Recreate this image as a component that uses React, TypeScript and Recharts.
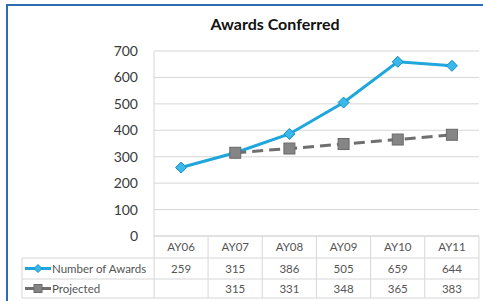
import { CartesianGrid, ComposedChart, Line, XAxis, YAxis } from 'recharts'

const years = ['AY06', 'AY07', 'AY08', 'AY09', 'AY10', 'AY11']
const awards = [259, 315, 386, 505, 659, 644]
const projected: (number | null)[] = [null, 315, 331, 348, 365, 383]
const yTicks = [0, 100, 200, 300, 400, 500, 600, 700]

const data = years.map((year, i) => ({
  year,
  awards: awards[i],
  projected: projected[i],
}))

const FONT = 'Lato, "Open Sans", sans-serif'
const BLUE = '#1fa6dc'
const GRAY = '#6f6f6f'
const LINE = '#d6d6d6'
const TXT = '#555'

// table rows under the plot
const ROW_TOP = 236
const ROW1 = 258
const ROW2 = 279
const ROW_BOT = 298
const LEGEND_LEFT = 22

// "half" is the marker half-size; recharts passes its own r, so keep a separate name
function Diamond({ cx, cy, half = 5.5 }: { cx?: number; cy?: number; half?: number }) {
  if (cx == null || cy == null) return null
  return (
    <path
      d={`M${cx},${cy - half} L${cx + half},${cy} L${cx},${cy + half} L${cx - half},${cy} Z`}
      fill="#3bb8ea"
      stroke="#1590c4"
      strokeWidth={1}
    />
  )
}

function Square({ cx, cy, half = 5.5 }: { cx?: number; cy?: number; half?: number }) {
  if (cx == null || cy == null) return null
  return (
    <rect
      x={cx - half}
      y={cy - half}
      width={half * 2}
      height={half * 2}
      fill="#858585"
      stroke="#6a6a6a"
      strokeWidth={1}
    />
  )
}

function TableColumn(props: any) {
  const { x, payload, index } = props
  const half = 27
  const i = index as number
  const left = x - half
  const right = x + half
  const midA = (ROW1 + ROW2) / 2
  const midP = (ROW2 + ROW_BOT) / 2
  return (
    <g fontFamily={FONT} fontSize={11.5} fill={TXT}>
      {i === 0 && (
        <g>
          <line x1={LEGEND_LEFT} x2={left} y1={ROW1} y2={ROW1} stroke={LINE} />
          <line x1={LEGEND_LEFT} x2={left} y1={ROW2} y2={ROW2} stroke={LINE} />
          <line x1={LEGEND_LEFT} x2={left} y1={ROW_BOT} y2={ROW_BOT} stroke={LINE} />
          <line x1={LEGEND_LEFT} x2={LEGEND_LEFT} y1={ROW1} y2={ROW_BOT} stroke={LINE} />
          <line x1={left} x2={left} y1={ROW_TOP} y2={ROW_BOT} stroke={LINE} />
          <line x1={25} x2={51} y1={midA} y2={midA} stroke={BLUE} strokeWidth={3} />
          <Diamond cx={38} cy={midA} half={4} />
          <text x={52} y={midA + 4}>Number of Awards</text>
          <line x1={25} x2={51} y1={midP} y2={midP} stroke={GRAY} strokeWidth={3} />
          <Square cx={38} cy={midP} half={4} />
          <text x={52} y={midP + 4}>Projected</text>
        </g>
      )}
      <line x1={left} x2={right} y1={ROW1} y2={ROW1} stroke={LINE} />
      <line x1={left} x2={right} y1={ROW2} y2={ROW2} stroke={LINE} />
      <line x1={left} x2={right} y1={ROW_BOT} y2={ROW_BOT} stroke={LINE} />
      <line x1={right} x2={right} y1={ROW_TOP} y2={ROW_BOT} stroke={LINE} />
      <text x={x} y={(ROW_TOP + ROW1) / 2 + 4} textAnchor="middle">
        {payload.value}
      </text>
      <text x={x} y={midA + 4} textAnchor="middle">
        {awards[i]}
      </text>
      <text x={x} y={midP + 4} textAnchor="middle">
        {projected[i] ?? ''}
      </text>
    </g>
  )
}

export default function App() {
  return (
    <div
      style={{
        position: 'absolute',
        left: 0,
        top: 0,
        width: 483,
        height: 301,
        overflow: 'hidden',
        background: '#fff',
      }}
    >
      <div
        style={{
          position: 'absolute',
          left: 6,
          top: 4,
          width: 500,
          height: 320,
          borderLeft: '2px solid #2a6db5',
          borderTop: '2px solid #2a6db5',
        }}
      />
      <div
        style={{
          position: 'absolute',
          left: 0,
          width: 550,
          top: 14,
          textAlign: 'center',
          fontFamily: FONT,
          fontWeight: 700,
          fontSize: 16,
          color: '#111',
        }}
      >
        Awards Conferred
      </div>
      <ComposedChart
        width={483}
        height={301}
        data={data}
        margin={{ top: 51, right: 4, left: 0, bottom: 0 }}
        style={{ position: 'absolute', left: 0, top: 0 }}
      >
        <CartesianGrid vertical={false} stroke={LINE} />
        <YAxis
          domain={[0, 700]}
          ticks={yTicks}
          width={154}
          tickLine={false}
          tickSize={0}
          tickMargin={16}
          axisLine={{ stroke: LINE }}
          tick={{ fontSize: 14, fill: '#3a3a3a', fontFamily: FONT }}
        />
        <XAxis
          dataKey="year"
          scale="band"
          height={65}
          axisLine={{ stroke: LINE }}
          tickLine={false}
          interval={0}
          tick={<TableColumn />}
        />
        <Line
          dataKey="awards"
          stroke={BLUE}
          strokeWidth={3}
          dot={<Diamond />}
          activeDot={false}
          isAnimationActive={false}
        />
        <Line
          dataKey="projected"
          stroke={GRAY}
          strokeWidth={3}
          strokeDasharray="11 6"
          dot={<Square />}
          activeDot={false}
          isAnimationActive={false}
        />
      </ComposedChart>
    </div>
  )
}
